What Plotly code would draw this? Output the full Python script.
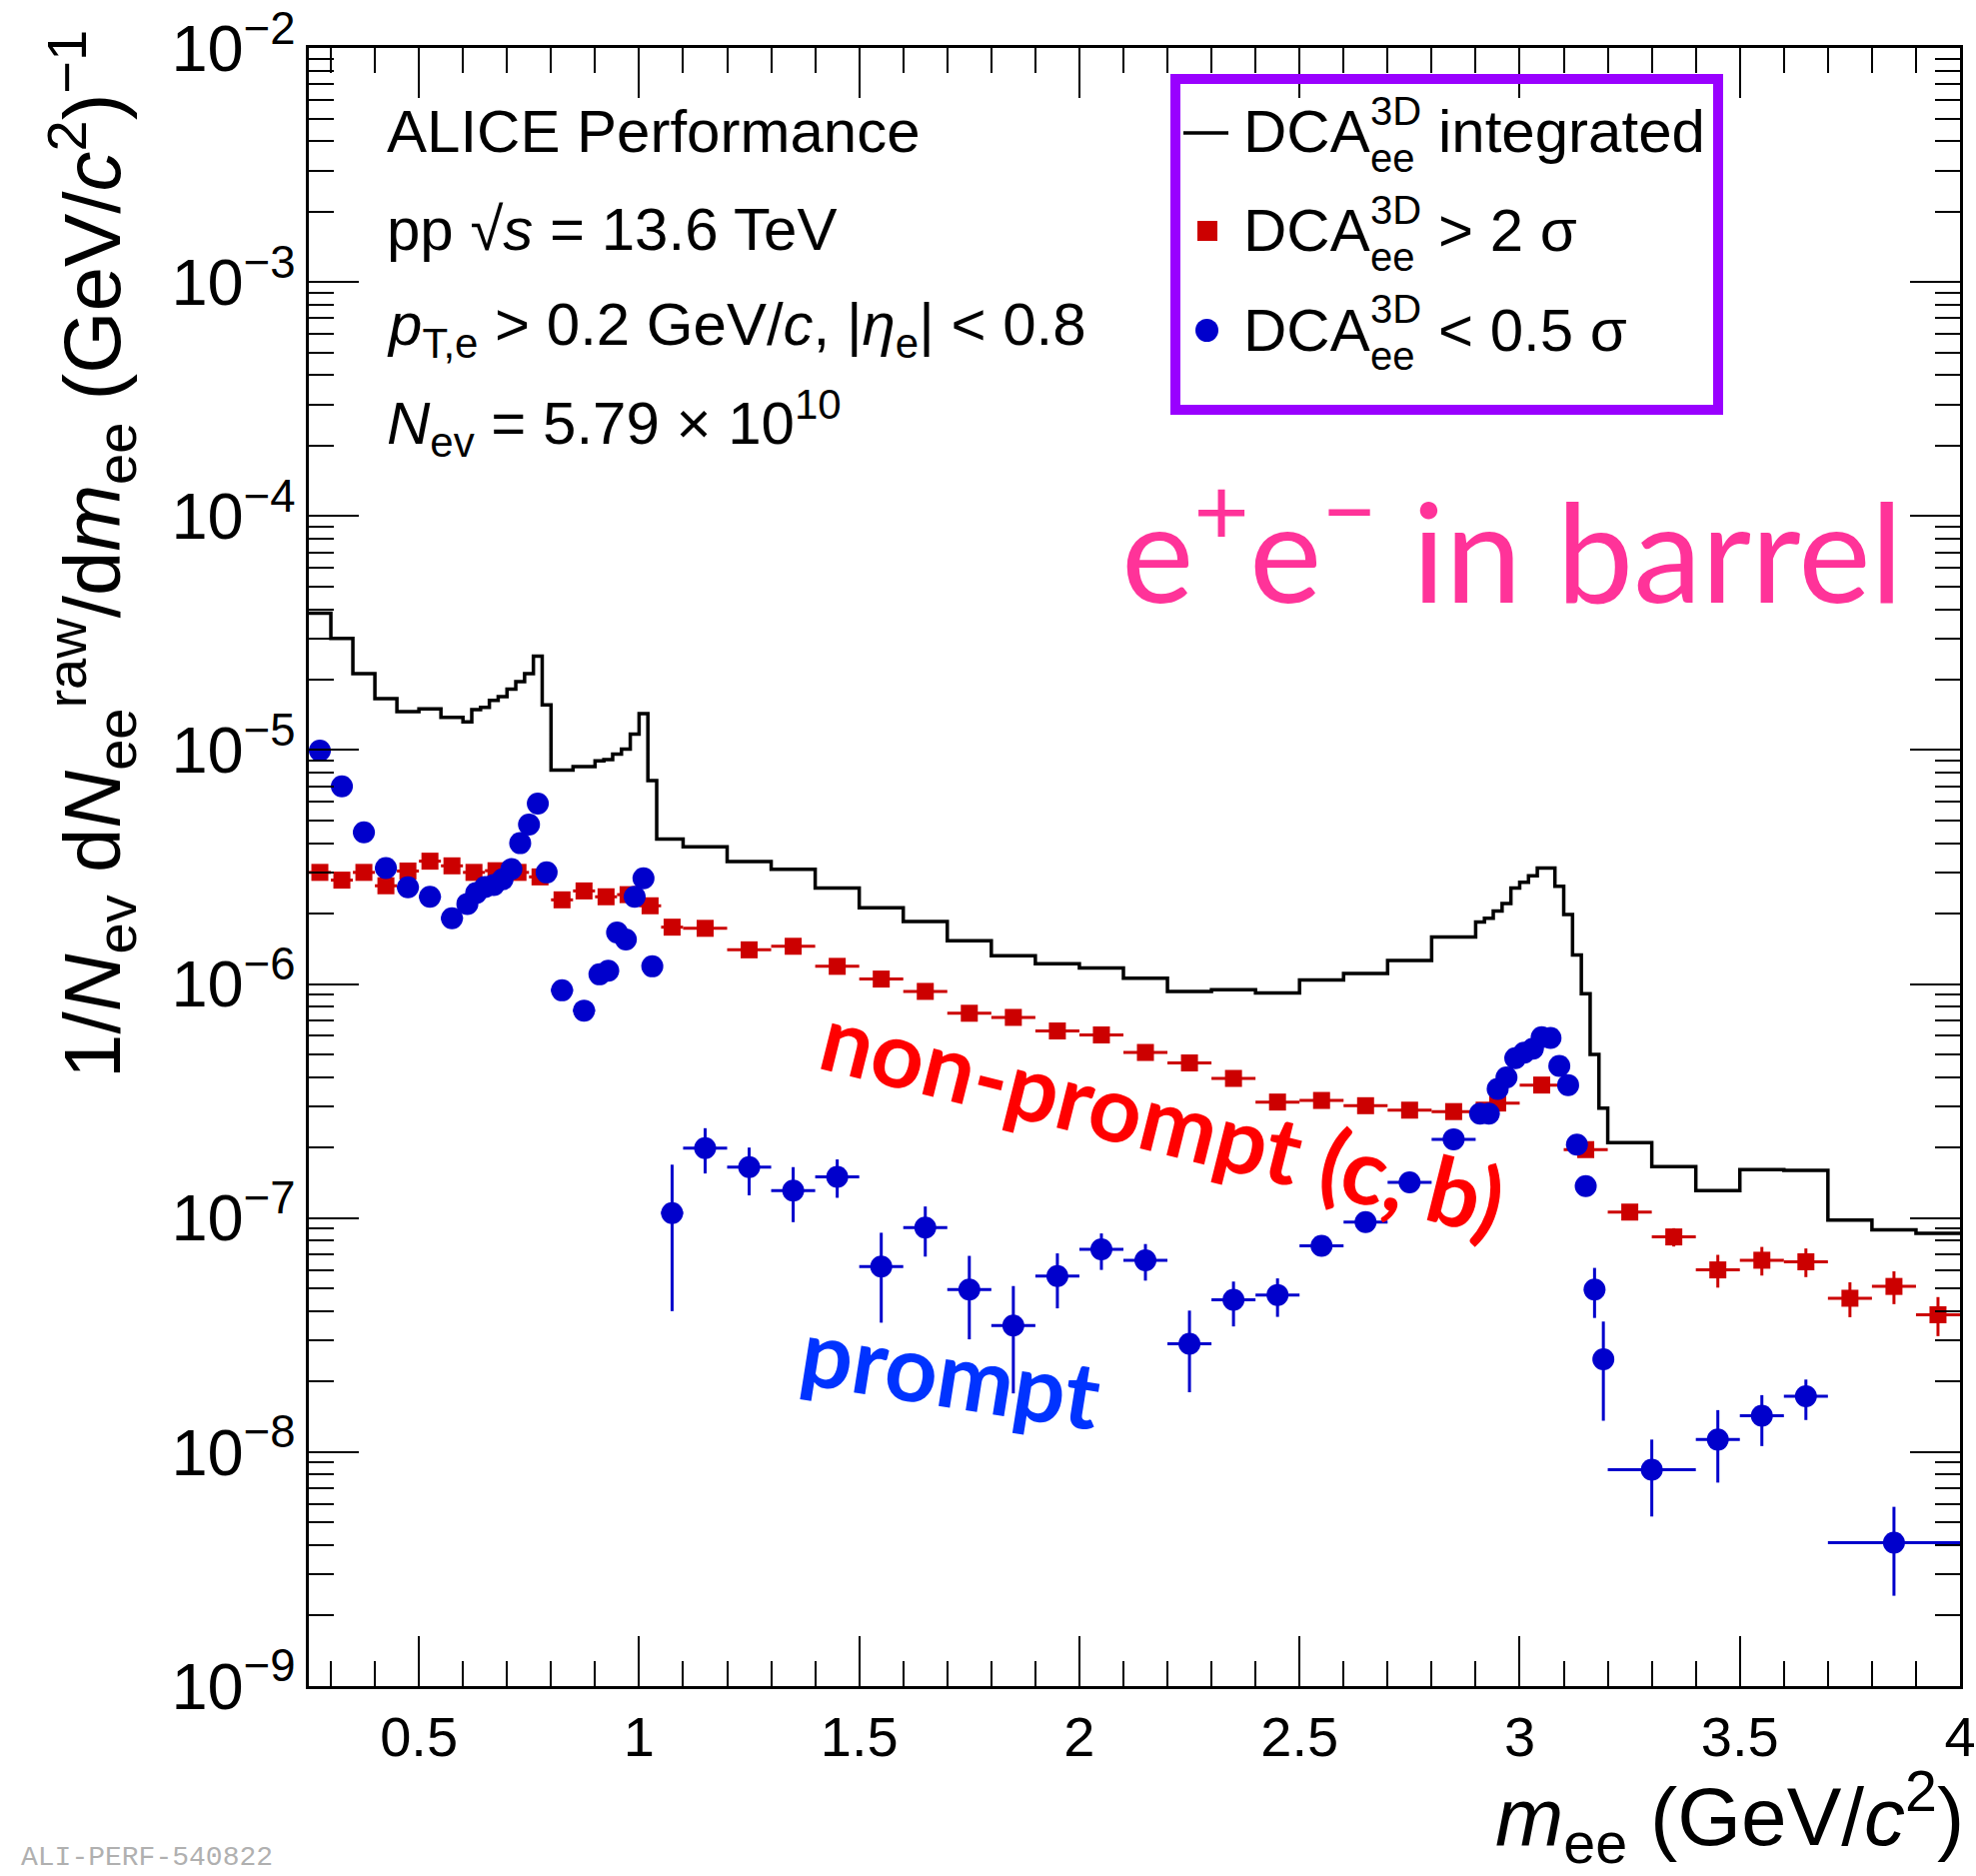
import plotly.graph_objects as go

# ---------------- data ----------------
# Black step histogram: DCA_ee^3D integrated
hist_edges = [0.25, 0.30, 0.35, 0.40, 0.45, 0.50, 0.55, 0.60,
              0.62, 0.64, 0.66, 0.68, 0.70, 0.72, 0.74, 0.76, 0.78, 0.80,
              0.85, 0.90,
              0.92, 0.94, 0.96, 0.98, 1.00, 1.02, 1.04,
              1.10, 1.20, 1.30, 1.40, 1.50, 1.60, 1.70, 1.80, 1.90, 2.00,
              2.10, 2.20, 2.30, 2.40, 2.50, 2.60, 2.70, 2.80, 2.90,
              2.92, 2.94, 2.96, 2.98, 3.00, 3.02, 3.04, 3.06, 3.08, 3.10,
              3.12, 3.14, 3.16, 3.18, 3.20,
              3.30, 3.40, 3.50, 3.60, 3.70, 3.80, 3.90, 4.00]
hist_vals = [3.85e-5, 3.0e-5, 2.12e-5, 1.66e-5, 1.46e-5, 1.50e-5, 1.38e-5,
             1.32e-5, 1.49e-5, 1.52e-5, 1.63e-5, 1.69e-5, 1.82e-5, 1.96e-5, 2.12e-5, 2.52e-5, 1.56e-5,
             8.2e-6, 8.5e-6,
             9.0e-6, 9.1e-6, 9.6e-6, 1.01e-5, 1.17e-5, 1.43e-5, 7.4e-6,
             4.17e-6,
             3.86e-6, 3.34e-6, 3.09e-6, 2.57e-6, 2.12e-6, 1.85e-6, 1.53e-6, 1.32e-6, 1.22e-6,
             1.17e-6, 1.06e-6, 9.3e-7, 9.45e-7, 9.15e-7, 1.04e-6, 1.11e-6, 1.26e-6, 1.59e-6,
             1.84e-6, 1.91e-6, 2.05e-6, 2.21e-6, 2.57e-6, 2.72e-6, 2.90e-6, 3.13e-6, 3.13e-6, 2.62e-6,
             1.98e-6, 1.33e-6, 9.1e-7, 5.0e-7, 2.95e-7,
             2.1e-7, 1.66e-7, 1.31e-7, 1.61e-7, 1.60e-7, 9.8e-8, 8.9e-8, 8.6e-8]

# Red squares: DCA_ee^3D > 2 sigma (non-prompt)
red_x = [0.275, 0.325, 0.375, 0.425, 0.475, 0.525, 0.575, 0.625, 0.675, 0.725,
         0.775, 0.825, 0.875, 0.925, 0.975, 1.025, 1.075,
         1.15, 1.25, 1.35, 1.45, 1.55, 1.65, 1.75, 1.85, 1.95, 2.05,
         2.15, 2.25, 2.35, 2.45, 2.55, 2.65, 2.75, 2.85, 2.95, 3.05,
         3.15, 3.25, 3.35, 3.45, 3.55, 3.65, 3.75, 3.85, 3.95]
red_xerr = [0.025] * 17 + [0.05] * 29
red_y = [3.0e-6, 2.78e-6, 3.0e-6, 2.63e-6, 3.04e-6, 3.35e-6, 3.2e-6, 3.0e-6, 3.05e-6, 3.0e-6,
         2.87e-6, 2.29e-6, 2.5e-6, 2.36e-6, 2.41e-6, 2.16e-6, 1.75e-6,
         1.73e-6, 1.40e-6, 1.45e-6, 1.19e-6, 1.05e-6, 9.3e-7, 7.5e-7, 7.2e-7, 6.3e-7, 6.06e-7,
         5.1e-7, 4.6e-7, 3.95e-7, 3.13e-7, 3.18e-7, 3.02e-7, 2.89e-7, 2.85e-7, 3.1e-7, 3.7e-7,
         1.96e-7, 1.06e-7, 8.3e-8, 6.0e-8, 6.6e-8, 6.5e-8, 4.54e-8, 5.1e-8, 3.86e-8]
red_relerr = [0.02] * 17 + [0.025] * 10 + [0.04] * 9 + \
             [0.04, 0.05, 0.05, 0.09, 0.16, 0.14, 0.14, 0.17, 0.16, 0.19]

# Blue circles: DCA_ee^3D < 0.5 sigma (prompt)
blue_x = [0.275, 0.325, 0.375, 0.425, 0.475, 0.525, 0.575,
          0.61, 0.63, 0.65, 0.67, 0.69, 0.71, 0.73, 0.75, 0.77, 0.79,
          0.825, 0.875,
          0.91, 0.93, 0.95, 0.97, 0.99, 1.01, 1.03,
          1.075,
          1.15, 1.25, 1.35, 1.45, 1.55, 1.65, 1.75, 1.85, 1.95, 2.05,
          2.15, 2.25, 2.35, 2.45, 2.55, 2.65, 2.75, 2.85,
          2.91, 2.93, 2.95, 2.97, 2.99, 3.01, 3.03, 3.05, 3.07, 3.09,
          3.11, 3.13, 3.15, 3.17, 3.19,
          3.30, 3.45, 3.55, 3.65, 3.85]
blue_xerr = [0.025] * 7 + [0.01] * 10 + [0.025] * 2 + [0.01] * 7 + [0.025] + \
            [0.05] * 18 + [0.01] * 15 + [0.10, 0.05, 0.05, 0.05, 0.15]
blue_y = [9.95e-6, 7.0e-6, 4.45e-6, 3.13e-6, 2.59e-6, 2.36e-6, 1.91e-6,
          2.2e-6, 2.45e-6, 2.6e-6, 2.65e-6, 2.8e-6, 3.1e-6, 4.0e-6, 4.8e-6, 5.9e-6, 3.0e-6,
          9.4e-7, 7.7e-7,
          1.1e-6, 1.14e-6, 1.66e-6, 1.55e-6, 2.36e-6, 2.83e-6, 1.19e-6,
          1.05e-7,
          1.99e-7, 1.65e-7, 1.31e-7, 1.50e-7, 6.2e-8, 9.1e-8, 4.95e-8, 3.47e-8, 5.65e-8, 7.35e-8,
          6.6e-8, 2.9e-8, 4.47e-8, 4.69e-8, 7.6e-8, 9.6e-8, 1.42e-7, 2.17e-7,
          2.79e-7, 2.79e-7, 3.56e-7, 3.99e-7, 4.82e-7, 5.09e-7, 5.29e-7, 5.93e-7, 5.88e-7, 4.47e-7,
          3.7e-7, 2.06e-7, 1.37e-7, 4.95e-8, 2.49e-8,
          8.4e-9, 1.13e-8, 1.43e-8, 1.73e-8, 4.1e-9]
blue_err_up = [0.0] * 26 + \
              [6.4e-8,
               4.3e-8, 3.5e-8, 3.4e-8, 2.8e-8, 2.45e-8, 2.1e-8, 1.94e-8, 1.65e-8, 1.41e-8, 1.24e-8,
               1.14e-8, 1.12e-8, 8.8e-9, 8.3e-9, 7.0e-9, 8.0e-9, 1.0e-8, 1.2e-8] + \
              [1.0e-8] * 13 + [1.17e-8, 1.12e-8] + \
              [2.9e-9, 3.8e-9, 3.2e-9, 3.1e-9, 1.73e-9]
blue_err_dn = [0.0] * 26 + \
              [6.5e-8,
               4.4e-8, 4.0e-8, 3.5e-8, 2.8e-8, 2.63e-8, 2.26e-8, 1.92e-8, 1.69e-8, 1.54e-8, 1.35e-8,
               1.2e-8, 1.1e-8, 1.03e-8, 9.1e-9, 7.0e-9, 8.0e-9, 1.0e-8, 1.2e-8] + \
              [1.0e-8] * 13 + [1.21e-8, 1.13e-8] + \
              [3.1e-9, 3.9e-9, 3.7e-9, 3.6e-9, 1.67e-9]

x_range = [0.25, 4.0]
y_log_range = [-9.0005, -1.9995]

# ---------------- styling ----------------
W, H = 1977, 1877
ML, MR, MT, MB = 309, 16, 48, 190
PW, PH = W - ML - MR, H - MT - MB
FONT = "Liberation Sans, Arial, Helvetica, sans-serif"
RED = "#cc0000"
BLUE = "#0000cc"


def px(xf):
    return (xf - ML) / PW


def py(yf):
    return (H - MB - yf) / PH


fig = go.Figure()

# histogram as steps
fig.add_trace(go.Scatter(
    x=hist_edges, y=hist_vals + [hist_vals[-1]], mode="lines",
    line=dict(color="black", width=3.5, shape="hv"), showlegend=False,
    hoverinfo="skip"))

fig.add_trace(go.Scatter(
    x=red_x, y=red_y, mode="markers",
    marker=dict(symbol="square", size=17, color=RED),
    error_x=dict(type="data", array=red_xerr, thickness=3, width=0, color=RED),
    error_y=dict(type="data", array=[v * r for v, r in zip(red_y, red_relerr)],
                 thickness=3, width=0, color=RED),
    showlegend=False))

fig.add_trace(go.Scatter(
    x=blue_x, y=blue_y, mode="markers",
    marker=dict(symbol="circle", size=22, color=BLUE),
    error_x=dict(type="data", array=blue_xerr, thickness=3, width=0, color=BLUE),
    error_y=dict(type="data", symmetric=False, array=blue_err_up,
                 arrayminus=blue_err_dn, thickness=3, width=0, color=BLUE),
    showlegend=False))

annotations = []


def txt(text, xf, yf, size=60, xanchor="left", yanchor="middle", color="black",
        family=FONT, angle=0):
    annotations.append(dict(
        text=text, x=px(xf), y=py(yf), xref="paper", yref="paper",
        xanchor=xanchor, yanchor=yanchor, showarrow=False, textangle=angle,
        font=dict(family=family, size=size, color=color)))


# info text
txt("ALICE Performance", 385, 132)
txt("pp √<i>s</i> = 13.6 TeV", 385, 229)
txt("<i>p</i><sub>T,e</sub> > 0.2 GeV/<i>c</i>, |<i>η</i><sub>e</sub>| < 0.8", 385, 329)
txt("<i>N</i><sub>ev</sub> = 5.79 × 10<sup>10</sup>", 385, 424)

# legend text (stacked super/subscripts)
for rc, rest in [(132, "integrated"), (231, "> 2 σ"), (330, "< 0.5 σ")]:
    txt("DCA", 1242, rc, size=60)
    txt("3D", 1369, rc - 21, size=40)
    txt("ee", 1369, rc + 26, size=40)
    txt(rest, 1437, rc, size=60)

# axis titles
txt("1/<i>N</i><sub>ev</sub> d<i>N</i><sub>ee</sub><sup>raw</sup>/d<i>m</i><sub>ee</sub> (GeV/<i>c</i><sup>2</sup>)<sup>−1</sup>",
    91, 555, size=80, xanchor="center", angle=-90)
txt("<i>m</i><sub>ee</sub> (GeV/<i>c</i><sup>2</sup>)", 1967, 1818, size=82, xanchor="right")

# overlay labels
txt("e<sup>+</sup>e<sup>−</sup> in barrel", 1906, 541, size=137, xanchor="right",
    color="#ff3399", family="Lato, Carlito, sans-serif")
txt("<b>non-prompt (c, b)</b>", 1164, 1118, size=92, xanchor="center",
    color="#ff0000", family="Lato, Carlito, sans-serif", angle=14)
txt("<b>prompt</b>", 951, 1372, size=92, xanchor="center",
    color="#0033ff", family="Lato, Carlito, sans-serif", angle=9)
txt("ALI-PERF-540822", 19, 1876, size=28, yanchor="bottom", color="#b0b0b0",
    family="Liberation Mono, monospace")

shapes = [
    dict(type="rect", xref="paper", yref="paper", x0=px(1176), x1=px(1719),
         y0=py(410), y1=py(79), line=dict(color="#9900ff", width=10),
         fillcolor="rgba(0,0,0,0)"),
    dict(type="line", xref="paper", yref="paper", x0=px(1184), x1=px(1229),
         y0=py(133), y1=py(133), line=dict(color="black", width=3.5)),
    dict(type="rect", xref="paper", yref="paper", x0=px(1198), x1=px(1218),
         y0=py(241), y1=py(221), line=dict(width=0), fillcolor=RED),
    dict(type="circle", xref="paper", yref="paper", x0=px(1196), x1=px(1219),
         y0=py(342), y1=py(319), line=dict(width=0), fillcolor=BLUE),
]

axis_common = dict(
    showline=True, linecolor="black", linewidth=3, mirror="ticks",
    ticks="inside", tickwidth=2, tickcolor="black", ticklen=50,
    showgrid=False, zeroline=False, automargin=False,
)

fig.update_layout(
    width=W, height=H,
    margin=dict(l=ML, r=MR, t=MT, b=MB, autoexpand=False),
    paper_bgcolor="white", plot_bgcolor="white",
    showlegend=False,
    xaxis=dict(range=x_range, tick0=0.5, dtick=0.5,
               tickfont=dict(family=FONT, size=56, color="black"),
               minor=dict(ticks="inside", ticklen=25, tickwidth=2, tickcolor="black",
                          tick0=0.0, dtick=0.1, showgrid=False),
               **axis_common),
    yaxis=dict(type="log", range=y_log_range, dtick=1, exponentformat="power",
               showexponent="all",
               tickfont=dict(family=FONT, size=52, color="black"),
               minor=dict(ticks="inside", ticklen=25, tickwidth=2, tickcolor="black",
                          dtick="D1", showgrid=False),
               **axis_common),
    annotations=annotations,
    shapes=shapes,
)

fig.write_html("out.html")
